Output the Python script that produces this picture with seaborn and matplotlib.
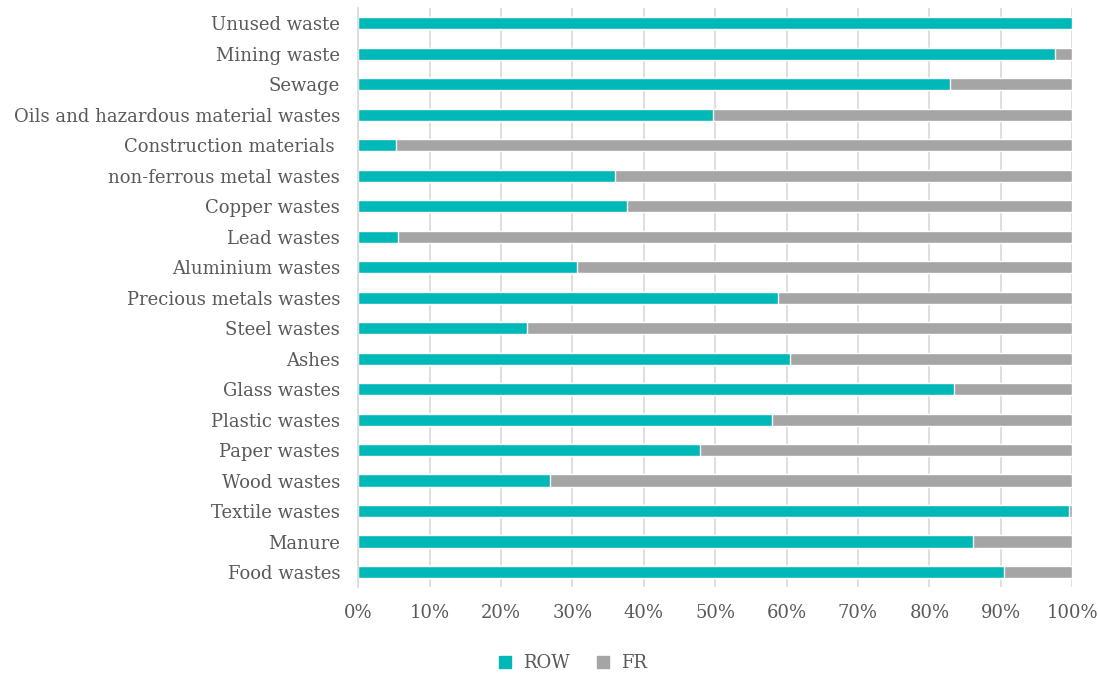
import numpy as np
import matplotlib.pyplot as plt
import pandas as pd
import seaborn as sns
from matplotlib.lines import Line2D
from matplotlib.ticker import PercentFormatter

categories = ['Unused waste', 'Mining waste', 'Sewage', 'Oils and hazardous material wastes',
              'Construction materials ', 'non-ferrous metal wastes', 'Copper wastes', 'Lead wastes',
              'Aluminium wastes', 'Precious metals wastes', 'Steel wastes', 'Ashes', 'Glass wastes',
              'Plastic wastes', 'Paper wastes', 'Wood wastes', 'Textile wastes', 'Manure', 'Food wastes']
row_share = [100.0, 97.6, 82.9, 49.7, 5.3, 35.9, 37.7, 5.6, 30.7, 58.8,
             23.7, 60.5, 83.5, 58.0, 47.9, 26.8, 99.6, 86.1, 90.5]
fr_share = [0.0, 2.4, 17.1, 50.3, 94.7, 64.1, 62.3, 94.4, 69.3, 41.2,
            76.3, 39.5, 16.5, 42.0, 52.1, 73.2, 0.4, 13.9, 9.5]

df = pd.DataFrame({'category': categories, 'ROW': row_share, 'FR': fr_share})
df['total'] = df['ROW'] + df['FR']

teal = '#00B8B8'
grey = '#A5A5A5'
text_col = '#595959'

sns.set_style('white')
plt.rcParams['font.family'] = ['DejaVu Serif']

fig, ax = plt.subplots(figsize=(10.99, 6.75), dpi=100)
fig.subplots_adjust(left=0.326, right=0.9755, top=0.988, bottom=0.13)

sns.barplot(data=df, x='total', y='category', color=grey, width=0.4, saturation=1, ax=ax)
sns.barplot(data=df, x='ROW', y='category', color=teal, width=0.4, saturation=1, ax=ax)

ax.set_xlim(0, 100)
ax.set_xticks(np.arange(0, 101, 10))
ax.xaxis.set_major_formatter(PercentFormatter(decimals=0))
ax.grid(axis='x', color='#D9D9D9', linewidth=1.2)
ax.set_axisbelow(True)
for s in ['top', 'right', 'bottom']:
    ax.spines[s].set_visible(False)
ax.spines['left'].set_color('#D9D9D9')
ax.spines['left'].set_linewidth(1.2)
ax.set_xlabel('')
ax.set_ylabel('')
ax.tick_params(axis='both', length=0, labelsize=13, labelcolor=text_col)
ax.tick_params(axis='y', pad=13)
ax.tick_params(axis='x', pad=12)
ax.set_ylim(len(categories) - 0.5, -0.5)

handles = [Line2D([], [], marker='s', linestyle='', color=teal, markersize=8),
           Line2D([], [], marker='s', linestyle='', color=grey, markersize=8)]
fig.legend(handles, ['ROW', 'FR'], loc='center', bbox_to_anchor=(0.516, 0.018),
           ncol=2, frameon=False, fontsize=13, labelcolor=text_col,
           handletextpad=0.0, columnspacing=0.8)

plt.savefig('out.png', dpi=100)
